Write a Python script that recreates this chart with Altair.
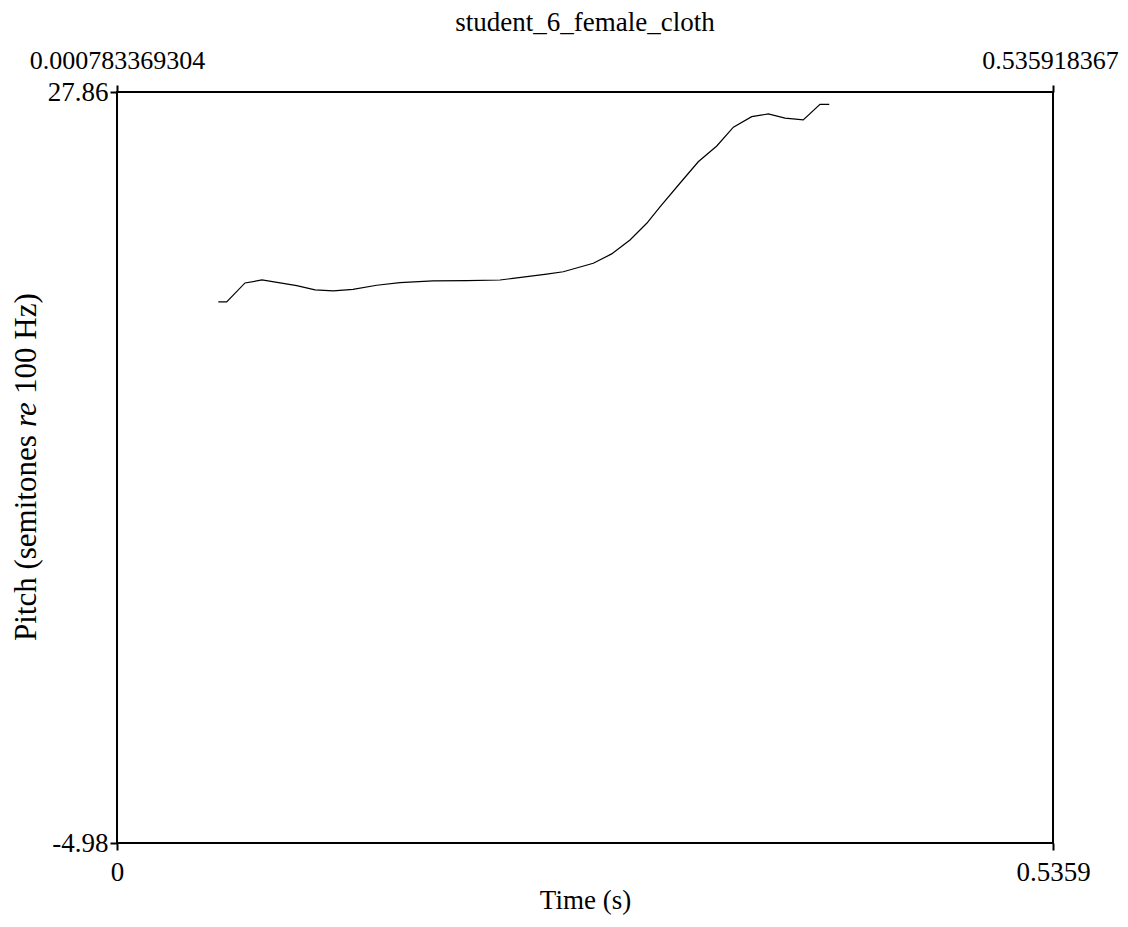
import altair as alt
import pandas as pd

# Pitch track (time in s, pitch in semitones re 100 Hz)
times = [0.0580, 0.0628, 0.0733, 0.0830, 0.1029, 0.1134, 0.1238, 0.1351, 0.1487,
         0.1620, 0.1809, 0.2002, 0.2193, 0.2267, 0.2460, 0.2555, 0.2727, 0.2832,
         0.2937, 0.3033, 0.3109, 0.3223, 0.3328, 0.3434, 0.3529, 0.3634, 0.3729,
         0.3825, 0.3929, 0.4025, 0.4078]
pitch = [18.68, 18.68, 19.51, 19.64, 19.39, 19.21, 19.16, 19.23, 19.41,
         19.52, 19.60, 19.61, 19.64, 19.71, 19.90, 20.00, 20.37, 20.78,
         21.39, 22.12, 22.84, 23.87, 24.81, 25.50, 26.32, 26.78, 26.90,
         26.72, 26.64, 27.32, 27.32]

x_min, x_max = 0.0, 0.5359
y_min, y_max = -4.98, 27.86
bottom_labels = ["0", "0.5359"]
top_labels = ["0.000783369304", "0.535918367"]
left_labels = ["-4.98", "27.86"]
title_text = "student_6_female_cloth"
x_title = "Time (s)"
y_title_parts = ["Pitch (semitones ", "re", "100 Hz)"]

FONT = "Liberation Serif"
FS = 27
TOPFS = 26
YFS = 31

df = pd.DataFrame({"t": times, "p": pitch})

xscale = alt.Scale(domain=[x_min, x_max], nice=False, zero=False)
yscale = alt.Scale(domain=[y_min, y_max], nice=False, zero=False)

common_axis = dict(domain=False, grid=False, ticks=True, tickColor="black", tickWidth=2,
                   tickSize=7, labelFont=FONT, labelColor="black", labelLimit=0,
                   labelOverlap=False, labelBound=False, labelFlush=False,
                   titleFont=FONT, titleFontSize=FS, titleFontWeight="normal",
                   titleColor="black")

line = alt.Chart(df).mark_line(color="black", strokeWidth=1.2).encode(
    x=alt.X("t:Q", scale=xscale,
            axis=alt.Axis(values=[x_min, x_max], orient="bottom", title=x_title,
                          labelExpr=f"datum.value == 0 ? '{bottom_labels[0]}' : '{bottom_labels[1]}'",
                          labelFontSize=FS, labelPadding=9, titlePadding=2, **common_axis)),
    y=alt.Y("p:Q", scale=yscale,
            axis=alt.Axis(values=[y_min, y_max], orient="left", title=None,
                          labelExpr=f"datum.value < 0 ? '{left_labels[0]}' : '{left_labels[1]}'",
                          labelFontSize=FS, labelPadding=2, **common_axis)),
)

top = alt.Chart(df).mark_point(opacity=0).encode(
    x=alt.X("t:Q", scale=xscale,
            axis=alt.Axis(values=[x_min, x_max], orient="top", title=None,
                          labelExpr=f"datum.value == 0 ? '{top_labels[0]}' : '{top_labels[1]}'",
                          labelFontSize=TOPFS, labelPadding=12,
                          labelOffset={"condition": {"test": "datum.value > 0.3", "value": -3},
                                       "value": 0},
                          **common_axis)),
    y=alt.Y("p:Q", scale=yscale, axis=None),
)

tdf = pd.DataFrame({"s": [0]})
ytitle_layers = []
offsets = [549, 335, 302]
styles = ["normal", "italic", "normal"]
for part, off, st in zip(y_title_parts, offsets, styles):
    ytitle_layers.append(
        alt.Chart(tdf).mark_text(angle=270, align="left", baseline="middle", font=FONT,
                                 fontSize=YFS, fontStyle=st, color="black", text=part)
        .encode(x=alt.value(-90), y=alt.value(off))
    )

chart = alt.layer(line, top, *ytitle_layers).resolve_axis(
    x="independent", y="independent"
).properties(
    width=936, height=751,
    title=alt.TitleParams(title_text, font=FONT, fontSize=FS, fontWeight="normal",
                          color="black", offset=10),
    autosize=alt.AutoSizeParams(type="none"),
    padding={"left": 109, "top": 84, "right": 67, "bottom": 72},
    background="white",
).configure_view(stroke="black", strokeWidth=2)

chart.save("out.html", embed_options={"renderer": "svg", "actions": False})
